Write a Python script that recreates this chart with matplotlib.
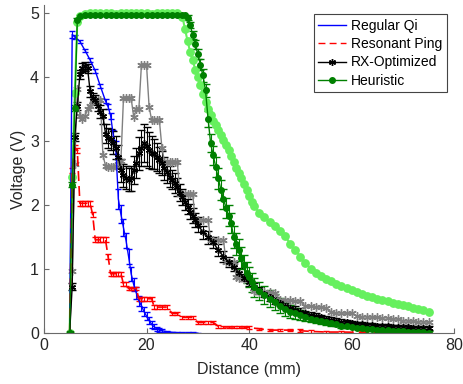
import numpy as np
import matplotlib
matplotlib.use("Agg")
import matplotlib.pyplot as plt
from matplotlib.lines import Line2D

plt.rcParams['font.family'] = ['Liberation Sans', 'DejaVu Sans']

# Regular Qi
qi_x = [5, 5.5, 6, 7, 8, 9, 10, 11, 12, 12.5, 13, 13.5, 14, 14.5, 15, 15.5, 16, 16.5,
        17, 17.5, 18, 18.5, 19, 19.5, 20, 20.5, 21, 21.5, 22, 22.5, 23, 24, 25, 26,
        27, 28, 29, 30]
qi_y = [0, 4.67, 4.63, 4.56, 4.42, 4.27, 4.10, 3.86, 3.63, 3.54, 3.40, 3.10, 2.90,
        2.10, 1.86, 1.65, 1.45, 1.20, 0.93, 0.76, 0.63, 0.51, 0.43, 0.34, 0.27, 0.20,
        0.14, 0.10, 0.07, 0.05, 0.04, 0.025, 0.015, 0.01, 0.007, 0.005, 0.003, 0.002]
qi_err = [0, 0.05, 0.03, 0.03, 0.03, 0.03, 0.03, 0.03, 0.03, 0.04, 0.05, 0.08, 0.10,
          0.15, 0.14, 0.13, 0.12, 0.12, 0.11, 0.10, 0.09, 0.08, 0.08, 0.07, 0.06, 0.05,
          0.05, 0.04, 0.03, 0.03, 0.02, 0.01, 0.01, 0.01, 0.01, 0.01, 0.01, 0.01]

# Resonant Ping
ping_x = [5, 5.5, 6, 6.5, 7, 7.5, 8, 8.5, 9, 9.5, 10, 10.5, 11, 11.5, 12, 12.5, 13,
          13.5, 14, 14.5, 15, 15.5, 16, 16.5, 17, 17.5, 18, 18.5, 19, 19.5, 20, 21,
          21.5, 22, 23, 24, 25, 26, 27, 28, 29, 30, 31, 32, 33, 34, 35, 36, 37, 38,
          39, 40, 42, 44, 46, 48, 50, 52, 55, 58, 62, 66, 70, 75]
ping_y = [0, 2.55, 2.90, 2.85, 2.03, 2.03, 2.03, 2.03, 2.03, 1.85, 1.46, 1.46, 1.46,
          1.46, 1.46, 1.20, 0.93, 0.93, 0.93, 0.93, 0.93, 0.77, 0.77, 0.70, 0.70, 0.70,
          0.70, 0.54, 0.54, 0.54, 0.54, 0.54, 0.41, 0.41, 0.41, 0.41, 0.31, 0.31, 0.25,
          0.25, 0.25, 0.17, 0.17, 0.17, 0.17, 0.11, 0.10, 0.10, 0.10, 0.10, 0.10, 0.09,
          0.07, 0.05, 0.05, 0.05, 0.04, 0.03, 0.02, 0.02, 0.015, 0.01, 0.008, 0.005]
ping_err = [0.04] * 16 + [0.03] * 20 + [0.02] * 28

# RX-Optimized
rx_x = [5, 5.5, 6, 6.5, 7, 7.5, 8, 8.5, 9, 9.5, 10, 10.5, 11, 11.5, 12, 12.5, 13,
        13.5, 14, 14.5, 15, 15.5, 16, 16.5, 17, 17.5, 18, 18.5, 19, 19.5, 20, 20.5,
        21, 21.5, 22, 22.5, 23, 23.5, 24, 24.5, 25, 25.5, 26, 26.5, 27, 27.5, 28,
        28.5, 29, 29.5, 30, 31, 32, 33, 34, 35, 36, 37, 38, 39, 40, 41, 42, 43, 44,
        45, 46, 47, 48, 49, 50, 51, 52, 53, 54, 55, 56, 57, 58, 59, 60, 61, 62, 63,
        64, 65, 66, 67, 68, 69, 70, 71, 72, 73, 74, 75]
rx_y = [0, 0.73, 3.07, 3.55, 4.05, 4.15, 4.17, 4.14, 3.78, 3.68, 3.64, 3.55, 3.46,
        3.39, 3.12, 3.05, 3.03, 2.98, 2.90, 2.76, 2.55, 2.47, 2.43, 2.40, 2.42, 2.55,
        2.66, 2.81, 2.90, 2.97, 2.92, 2.86, 2.82, 2.80, 2.76, 2.71, 2.66, 2.58, 2.52,
        2.45, 2.40, 2.35, 2.29, 2.20, 2.13, 2.05, 1.98, 1.90, 1.84, 1.77, 1.70, 1.58,
        1.50, 1.42, 1.30, 1.20, 1.12, 1.04, 0.95, 0.87, 0.80, 0.73, 0.67, 0.61, 0.56,
        0.51, 0.47, 0.43, 0.40, 0.37, 0.34, 0.31, 0.29, 0.27, 0.25, 0.23, 0.21, 0.20,
        0.18, 0.17, 0.16, 0.15, 0.14, 0.135, 0.13, 0.12, 0.115, 0.11, 0.105, 0.10,
        0.10, 0.095, 0.09, 0.09, 0.085, 0.085]
rx_err = ([0, 0.05, 0.06, 0.06, 0.07, 0.07, 0.07, 0.07, 0.08, 0.08, 0.08, 0.08, 0.10,
           0.12, 0.15, 0.16, 0.17, 0.18, 0.18, 0.18, 0.18, 0.18, 0.18, 0.18, 0.20, 0.22,
           0.24, 0.26, 0.28, 0.30, 0.30, 0.28, 0.26, 0.24, 0.22, 0.20, 0.19, 0.18, 0.17,
           0.16, 0.15, 0.15, 0.14, 0.14, 0.13, 0.13, 0.12, 0.12, 0.12, 0.11, 0.11, 0.10,
           0.10, 0.09, 0.09, 0.08, 0.08, 0.07, 0.07, 0.06, 0.06]
          + [0.05] * 10 + [0.04] * 10 + [0.03] * 15)

# Heuristic
heu_x = [5, 5.5, 6, 6.5, 7, 8, 9, 10, 11, 12, 13, 14, 15, 16, 17, 18, 19, 20, 21, 22,
         23, 24, 25, 26, 27, 27.5, 28, 28.5, 29, 29.5, 30, 30.5, 31, 31.5, 32, 32.5,
         33, 33.5, 34, 34.5, 35, 35.5, 36, 36.5, 37, 37.5, 38, 38.5, 39, 39.5, 40,
         40.5, 41, 42, 43, 44, 45, 46, 47, 48, 49, 50, 51, 52, 53, 54, 55, 56, 57, 58,
         59, 60, 61, 62, 63, 64, 65, 66, 67, 68, 69, 70, 71, 72, 73, 74, 75]
heu_y = [0, 2.32, 3.52, 4.90, 4.96, 4.97, 4.97, 4.98, 4.98, 4.97, 4.98, 4.98, 4.97,
         4.98, 4.98, 4.98, 4.97, 4.98, 4.98, 4.98, 4.97, 4.98, 4.98, 4.98, 4.98, 4.97,
         4.93, 4.82, 4.66, 4.52, 4.36, 4.20, 4.03, 3.80, 3.35, 2.97, 2.78, 2.60, 2.42,
         2.24, 2.10, 1.96, 1.84, 1.72, 1.50, 1.40, 1.30, 1.18, 1.06, 0.95, 0.88, 0.80,
         0.72, 0.66, 0.60, 0.54, 0.49, 0.43, 0.38, 0.34, 0.31, 0.29, 0.26, 0.23, 0.21,
         0.19, 0.17, 0.16, 0.14, 0.12, 0.11, 0.10, 0.09, 0.08, 0.07, 0.06, 0.055, 0.05,
         0.045, 0.04, 0.035, 0.03, 0.025, 0.02, 0.018, 0.015, 0.012]
heu_err = ([0, 0.04, 0.04, 0.03] + [0.01] * 22
           + [0.04, 0.05, 0.06, 0.07, 0.08, 0.09, 0.10, 0.10, 0.12, 0.14, 0.15, 0.16,
              0.16, 0.16, 0.16, 0.16, 0.16, 0.16, 0.17, 0.17, 0.17, 0.17, 0.17, 0.16,
              0.16, 0.15, 0.15, 0.14, 0.14, 0.13, 0.12, 0.12, 0.11, 0.10, 0.09, 0.08,
              0.07, 0.06, 0.05, 0.05, 0.04, 0.04, 0.03, 0.03]
           + [0.02] * 17)

# second RX run (grey, no legend)
grey_x = [5, 5.5, 6, 6.5, 7, 7.5, 8, 8.5, 9, 9.5, 10, 10.5, 11, 11.5, 12, 12.5, 13,
          13.5, 14, 14.5, 15, 15.5, 16, 16.5, 17, 17.5, 18, 18.5, 19, 19.5, 20, 20.5,
          21, 21.5, 22, 22.5, 23, 23.5, 24, 24.5, 25, 25.5, 26, 26.5, 27, 27.5, 28,
          28.5, 29, 29.5, 30, 31, 32, 32.5, 33, 34, 35, 35.5, 36, 37, 37.5, 38, 39, 40,
          41, 42, 43, 44, 45, 46, 47, 48, 49, 50, 51, 52, 53, 54, 55, 56, 57, 58, 59,
          60, 61, 62, 63, 64, 65, 66, 67, 68, 69, 70, 71, 72, 73, 74, 75]
grey_y = [0, 0.97, 2.65, 3.82, 3.40, 3.35, 3.40, 3.50, 3.55, 3.64, 3.64, 3.64, 3.64,
          2.78, 2.62, 2.60, 2.60, 2.60, 2.62, 2.70, 2.70, 3.67, 3.67, 3.67, 3.67, 3.38,
          3.50, 3.50, 4.19, 4.19, 4.19, 3.54, 3.33, 3.33, 3.33, 3.33, 2.90, 2.68, 2.68,
          2.68, 2.68, 2.68, 2.68, 2.18, 2.18, 2.18, 2.18, 2.18, 2.18, 1.77, 1.77, 1.77,
          1.77, 1.46, 1.46, 1.46, 1.46, 1.12, 1.12, 1.12, 0.88, 0.86, 0.85, 0.84, 0.66,
          0.65, 0.65, 0.64, 0.63, 0.52, 0.52, 0.52, 0.51, 0.50, 0.42, 0.42, 0.41, 0.41,
          0.40, 0.33, 0.32, 0.32, 0.31, 0.31, 0.27, 0.26, 0.26, 0.25, 0.25, 0.24, 0.24,
          0.23, 0.22, 0.20, 0.19, 0.19, 0.18, 0.18, 0.17]

# second heuristic run (light green, no legend)
lg_x = [5, 5.5, 6, 6.5, 7, 8, 9, 10, 11, 12, 13, 14, 15, 16, 17, 18, 19, 20, 21, 22,
        23, 24, 25, 26, 27, 27.5, 28, 28.5, 29, 29.5, 30, 30.5, 31, 31.5, 32, 32.5, 33,
        33.5, 34, 34.5, 35, 35.5, 36, 36.5, 37, 37.5, 38, 38.5, 39, 39.5, 40, 40.5, 41,
        42, 43, 44, 45, 46, 47, 48, 49, 50, 51, 52, 53, 54, 55, 56, 57, 58, 59, 60, 61,
        62, 63, 64, 65, 66, 67, 68, 69, 70, 71, 72, 73, 74, 75]
lg_y = [0, 2.45, 3.75, 4.87, 4.96, 4.99, 5.0, 5.0, 5.0, 5.0, 5.0, 4.99, 5.0, 5.0, 5.0,
        5.0, 5.0, 5.0, 4.99, 5.0, 5.0, 5.0, 5.0, 5.0, 4.95, 4.75, 4.57, 4.40, 4.27, 4.12,
        4.00, 3.88, 3.74, 3.62, 3.51, 3.41, 3.32, 3.25, 3.18, 3.10, 3.02, 2.94, 2.86,
        2.77, 2.67, 2.58, 2.50, 2.42, 2.34, 2.24, 2.14, 2.05, 1.99, 1.88, 1.81, 1.74,
        1.67, 1.60, 1.52, 1.40, 1.30, 1.20, 1.10, 1.01, 0.95, 0.90, 0.85, 0.81, 0.77,
        0.74, 0.71, 0.68, 0.65, 0.62, 0.59, 0.56, 0.54, 0.52, 0.50, 0.48, 0.46, 0.44,
        0.42, 0.40, 0.38, 0.36, 0.34]

fig = plt.figure(figsize=(4.63, 3.84), dpi=100)
ax = fig.add_axes([0.095, 0.132, 0.886, 0.855])

ax.errorbar(qi_x, qi_y, yerr=qi_err, color='#0000FF', lw=1, capsize=2.5,
            elinewidth=0.8)
ax.errorbar(ping_x, ping_y, yerr=ping_err, color='#FF0000', lw=1.2, ls='--',
            dashes=(6, 3), capsize=2.5, elinewidth=0.8)
ax.errorbar(rx_x, rx_y, yerr=rx_err, color='black', lw=1, marker=(6, 2, 0), ms=5,
            capsize=3, elinewidth=0.8)
ax.errorbar(heu_x, heu_y, yerr=heu_err, color='#008000', lw=1, marker='o', ms=4,
            capsize=3, elinewidth=0.8)
ax.plot(grey_x, grey_y, color='#808080', lw=1, marker=(6, 2, 0), ms=6, mew=1)
ax.plot(lg_x, lg_y, color='#66F05E', lw=1.5, marker='o', ms=5.3)

ax.set_xlim(0, 80)
ax.set_ylim(0, 5.13)
ax.set_xticks([0, 20, 40, 60, 80])
ax.set_yticks([0, 1, 2, 3, 4, 5])
ax.spines['top'].set_visible(False)
ax.spines['right'].set_visible(False)
for s in ['left', 'bottom']:
    ax.spines[s].set_color('#6a6a6a')
    ax.spines[s].set_linewidth(0.8)
ax.tick_params(direction='in', length=3.5, width=0.8, color='#6a6a6a',
               labelsize=11.5, labelcolor='#262626')
ax.set_xlabel('Distance (mm)', fontsize=11.5, color='#262626', labelpad=6)
ax.set_ylabel('Voltage (V)', fontsize=11.5, color='#262626', labelpad=3)

handles = [
    Line2D([], [], color='#0000FF', lw=1),
    Line2D([], [], color='#FF0000', lw=1, ls='--', dashes=(5, 3)),
    Line2D([], [], color='black', lw=1, marker=(6, 2, 0), ms=5),
    Line2D([], [], color='#008000', lw=1, marker='o', ms=4),
]
labels = ['Regular Qi', 'Resonant Ping', 'RX-Optimized', 'Heuristic']
leg = ax.legend(handles, labels, loc='upper right', bbox_to_anchor=(0.983, 0.972),
                fontsize=10, fancybox=False, framealpha=1, edgecolor='#444444',
                handlelength=2.0, labelspacing=0.3, borderpad=0.35,
                handletextpad=0.35, borderaxespad=0)
leg.get_frame().set_linewidth(0.8)

fig.savefig('out.png', dpi=100)
